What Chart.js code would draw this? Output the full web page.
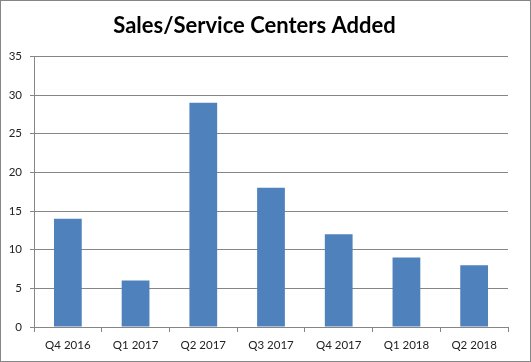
<!DOCTYPE html>
<html>
<head>
<meta charset="utf-8">
<script src="https://cdn.jsdelivr.net/npm/chart.js@4"></script>
<style>
  html, body { margin: 0; padding: 0; background: #fff; }
  #wrap { width: 531px; height: 362px; box-sizing: border-box; border: 1px solid #868686; position: relative; }
  canvas { display: block; }
</style>
</head>
<body>
<div id="wrap"><canvas id="c" width="529" height="360"></canvas></div>
<script>
const categories = ["Q4 2016", "Q1 2017", "Q2 2017", "Q3 2017", "Q4 2017", "Q1 2018", "Q2 2018"];
const centersAdded = [14, 6, 29, 18, 12, 9, 8];
const chartTitle = "Sales/Service Centers Added";

const gridColor = "#868686";
new Chart(document.getElementById("c"), {
  type: "bar",
  data: {
    labels: categories,
    datasets: [{
      data: centersAdded,
      backgroundColor: "#4F81BD",
      borderWidth: 0,
      categoryPercentage: 1,
      barPercentage: 0.41
    }]
  },
  options: {
    responsive: false,
    animation: false,
    layout: { padding: { top: 3, right: 22, left: 0, bottom: 0 } },
    plugins: {
      legend: { display: false },
      tooltip: { enabled: false },
      title: {
        display: true,
        text: chartTitle,
        color: "#000",
        font: { family: "Lato", size: 22, weight: "bold", lineHeight: 1.2 },
        padding: { top: 9, bottom: 17 }
      }
    },
    scales: {
      x: {
        afterFit: (s) => { s.height = 34; },
        grid: { drawOnChartArea: false, drawTicks: true, tickLength: 5, color: gridColor, offset: true },
        border: { color: gridColor, width: 1 },
        ticks: { color: "#222", font: { family: "Lato", size: 11.5 }, padding: 6, maxRotation: 0, autoSkip: false }
      },
      y: {
        min: 0, max: 35,
        afterFit: (s) => { s.width = 33; },
        grid: { color: gridColor, tickLength: 4, lineWidth: 1 },
        border: { color: gridColor, width: 1 },
        ticks: { stepSize: 5, color: "#222", font: { family: "Lato", size: 11.5 }, padding: 8 }
      }
    }
  }
});
</script>
</body>
</html>
